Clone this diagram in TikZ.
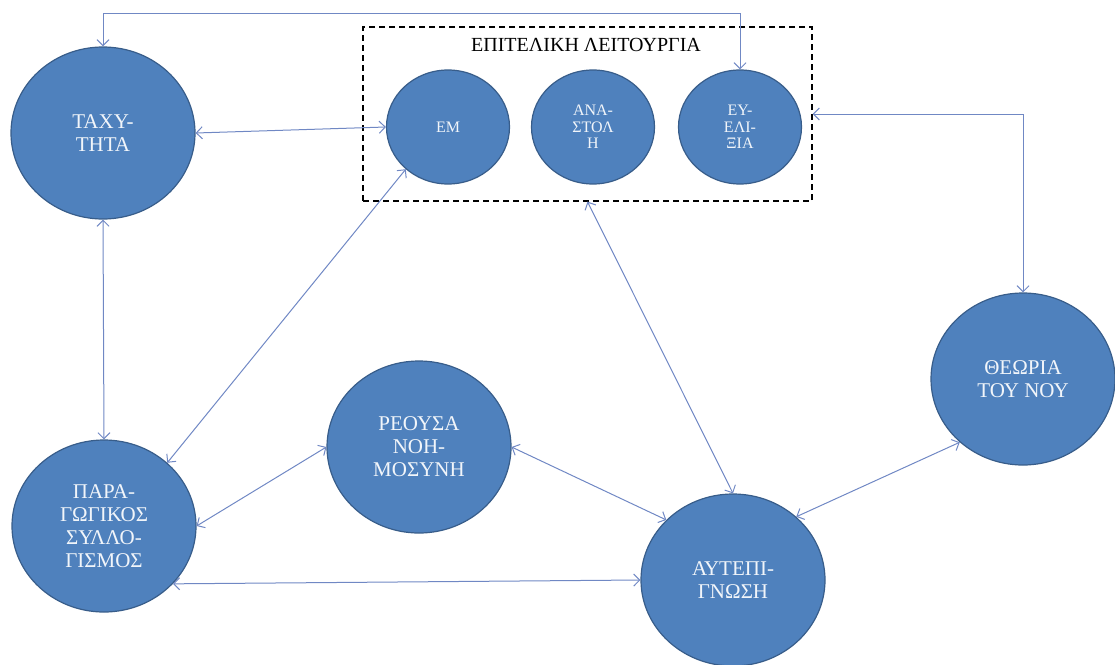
\documentclass[tikz,border=0pt]{standalone}
\usepackage{fontspec}
\setmainfont{Liberation Serif}
\usetikzlibrary{shapes.geometric,arrows.meta}
\definecolor{nodefill}{HTML}{4F81BD}
\definecolor{nodeline}{HTML}{385D8A}
\definecolor{linkcol}{RGB}{112,136,196}
\begin{document}
\begin{tikzpicture}[x=1pt, y=-1pt]
			\tikzstyle{big}  = [ellipse, minimum width=184pt, minimum height=172pt, inner sep=0pt, draw=nodeline, line width=1.2pt, fill=nodefill, text=white!92!nodefill, align=center, font=\fontsize{21}{23}\selectfont]
			\tikzstyle{small} = [big, minimum width=123pt, minimum height=114pt, font=\fontsize{16}{16.5}\selectfont]
			\tikzstyle{link} = [draw=linkcol, line width=1pt, {Straight Barb[length=6pt,width=12pt]}-{Straight Barb[length=6pt,width=12pt]}]

			\useasboundingbox (0,0) rectangle (1115,664);

			% executive function box
			\node[draw, dashed, dash pattern=on 6pt off 4pt, line width=1.3pt, minimum width=449pt, minimum height=174pt, inner sep=0pt] (exec) at (587.5,114) {};
			\node[font=\fontsize{20}{22}\selectfont] (title) at (586,45) {ΕΠΙΤΕΛΙΚΗ ΛΕΙΤΟΥΡΓΙΑ};

			\foreach \name/\x/\y/\txt in {tax/103/133/ΤΑΧΥ-\\ΤΗΤΑ, par/104/526/ΠΑΡΑ-\\ΓΩΓΙΚΟΣ\\ΣΥΛΛΟ-\\ΓΙΣΜΟΣ, reo/419/447/ΡΕΟΥΣΑ\\ΝΟΗ-\\ΜΟΣΥΝΗ, aut/733/580/ΑΥΤΕΠΙ-\\ΓΝΩΣΗ, the/1023/379/ΘΕΩΡΙΑ\\ΤΟΥ ΝΟΥ}
				\node[big] (\name) at (\x, \y) {\txt};

			\foreach \name/\x/\txt in {em/448/ΕΜ, ana/593/ΑΝΑ-\\ΣΤΟΛ\\Η, eve/740/ΕΥ-\\ΕΛΙ-\\ΞΙΑ}
				\node[small] (\name) at (\x, 127) {\txt};

			\coordinate (top) at (0,13);

			\foreach \from/\to in {tax.east/em.west, tax.south/par.north, em.225/par.45, par.east/reo.west, reo.east/aut.138, par.320/aut.west, exec.south/aut.north, the.225/aut.45}
				\path[link] (\from) -- (\to);

			\path[link] (tax.north) -- (tax.north |- top) -| (eve.north);
			\path[link] (exec.east) -| (the.north);

		\end{tikzpicture}
\end{document}
